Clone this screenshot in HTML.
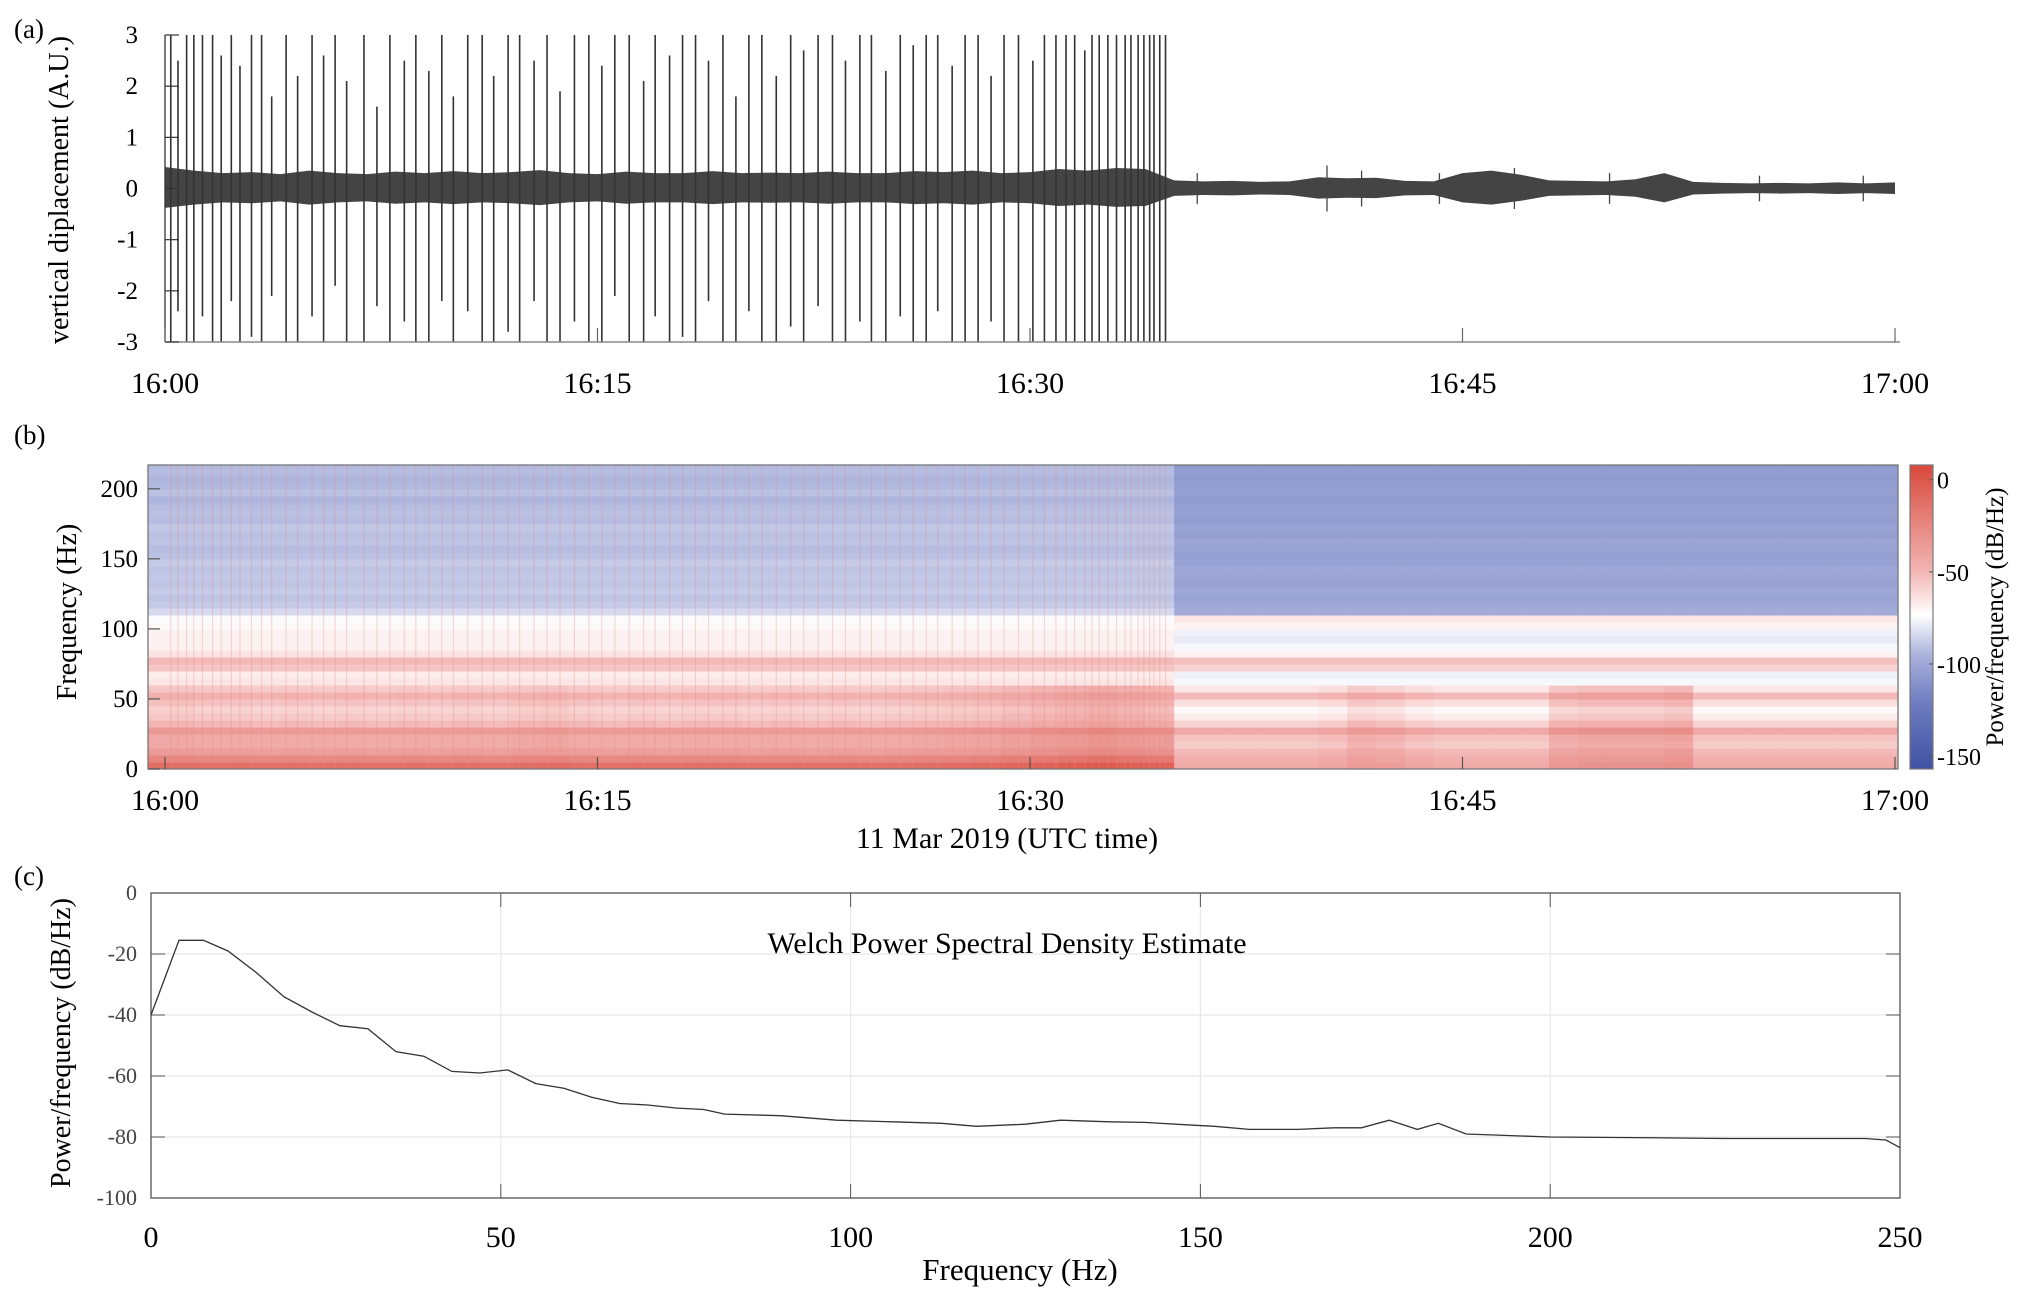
<!DOCTYPE html>
<html><head><meta charset="utf-8"><style>
html,body{margin:0;padding:0;background:#fff}
svg{display:block;font-family:"Liberation Serif",serif}
</style></head><body>
<svg id="fig" width="2024" height="1302" viewBox="0 0 2024 1302" xmlns="http://www.w3.org/2000/svg">
<defs>
<clipPath id="clipA"><rect x="165" y="35" width="1735" height="307"/></clipPath>
<clipPath id="clipB"><rect x="148" y="465" width="1750" height="304"/></clipPath>
<linearGradient id="cbar" x1="0" y1="1" x2="0" y2="0">
<stop offset="0" stop-color="#3f51a3"/><stop offset="0.219" stop-color="#6f7dc0"/><stop offset="0.375" stop-color="#aab2dc"/><stop offset="0.506" stop-color="#ffffff"/><stop offset="0.656" stop-color="#f2b3b1"/><stop offset="0.8125" stop-color="#e6847d"/><stop offset="1" stop-color="#d9483b"/>
</linearGradient>
</defs>
<g id="panelA"></g>
<g id="panelB"></g>
<g id="panelC"></g>
</svg>
<script>
// ---------- Panel (a) data ----------
const timeTicksMin = [0, 15, 30, 45, 60];
const timeTickLabels = ["16:00", "16:15", "16:30", "16:45", "17:00"];
const dispTicks = [3, 2, 1, 0, -1, -2, -3];
const spikeTimes = [0.2,0.45,0.75,1.0,1.3,1.65,1.95,2.3,2.6,3.0,3.35,3.7,4.2,4.6,5.1,5.5,5.9,6.3,6.9,7.35,7.8,8.3,8.7,9.15,9.6,10.0,10.5,11.0,11.4,11.9,12.3,12.8,13.25,13.7,14.2,14.7,15.15,15.6,16.1,16.6,17.0,17.5,17.95,18.4,18.85,19.35,19.8,20.25,20.7,21.2,21.7,22.15,22.65,23.15,23.6,24.1,24.5,25.0,25.5,25.95,26.4,26.8,27.3,27.75,28.2,28.65,29.1,29.6,30.1,30.5,30.9,31.25,31.55,31.9,32.15,32.4,32.7,33.0,33.3,33.5,33.75,33.95,34.15,34.3,34.5,34.7];
const spikeUp = [3,2.5,3,3,3,3,2.6,3,2.4,3,3,1.8,3,2.2,3,2.6,3,2.1,3,1.6,3,2.5,3,2.3,3,1.8,3,3,2.2,3,3,2.5,3,1.9,3,3,2.4,3,3,2.1,3,2.6,3,3,2.5,3,1.8,3,3,2.2,3,2.7,3,3,2.5,3,3,2.3,3,2.8,3,3,2.4,3,3,2.2,3,3,2.5,3,3,3,3,2.7,3,3,3,3,3,3,3,3,3,3,3,3];
const spikeDown = [-3,-2.4,-3,-3,-2.5,-3,-3,-2.2,-3,-2.9,-3,-2.1,-3,-3,-2.5,-3,-1.9,-3,-3,-2.3,-3,-2.6,-3,-3,-2.2,-3,-2.4,-3,-3,-2.8,-3,-2.2,-3,-3,-2.6,-3,-3,-2.1,-3,-3,-2.5,-3,-2.9,-3,-2.2,-3,-3,-2.4,-3,-3,-2.7,-3,-2.3,-3,-3,-2.6,-3,-3,-2.5,-3,-3,-2.4,-3,-3,-3,-2.6,-3,-3,-3,-3,-3,-3,-3,-3,-3,-3,-3,-3,-3,-3,-3,-3,-3,-3,-3,-3];
const envelope = [0.42,0.35,0.3,0.32,0.28,0.35,0.3,0.28,0.33,0.3,0.34,0.3,0.32,0.36,0.3,0.28,0.33,0.3,0.3,0.34,0.3,0.31,0.3,0.33,0.3,0.3,0.34,0.32,0.35,0.3,0.32,0.38,0.35,0.4,0.38,0.16,0.14,0.15,0.13,0.14,0.22,0.2,0.21,0.15,0.14,0.3,0.35,0.27,0.16,0.15,0.14,0.18,0.3,0.13,0.11,0.1,0.11,0.1,0.12,0.1,0.12];
const lateSpikeTimes = [35.8,40.3,41.5,44.2,46.8,50.1,55.3,58.9];
const lateSpikeAmp = [0.3,0.45,0.35,0.3,0.4,0.3,0.25,0.25];

// ---------- Panel (b) data ----------
const freqTicks = [0, 50, 100, 150, 200];
const cbarTicks = [0, -50, -100, -150];
const profileBefore = [-18,-30,-42,-48,-48,-40,-55,-60,-63,-58,-52,-60,-66,-68,-56,-52,-65,-70,-70,-70,-72,-75,-84,-88,-90,-88,-90,-89,-90,-88,-91,-92,-90,-91,-89,-92,-91,-92,-94,-91,-93,-94,-92,-93];
const profileAfter = [-45,-48,-52,-58,-55,-44,-60,-68,-72,-64,-52,-66,-76,-78,-60,-54,-70,-76,-80,-78,-70,-66,-98,-100,-102,-100,-103,-101,-100,-103,-104,-102,-101,-104,-102,-105,-103,-104,-106,-104,-105,-106,-105,-107];
const activity = [4,3,3,2,3,2,3,2,3,2,3,2,4,5,3,2,3,2,3,3,2,3,2,3,2,3,4,5,6,8,10,12,14,12,10,0,0,0,0,0,2,8,6,2,0,0,0,0,10,12,12,12,14,0,0,0,0,0,0,0];

// ---------- Panel (c) data ----------
const psdFreq = [0,4,7.5,11,15,19,23,27,31,35,39,43,47,51,55,59,63,67,71,75,79,82,90,98,106,113,118,125,130,137,142,148,152,157,164,169,173,177,181,184,188,200,212,225,235,245,248,250];
const psdDb = [-40,-15.5,-15.5,-19,-26,-34,-39,-43.5,-44.5,-52,-53.5,-58.5,-59,-58,-62.5,-64,-67,-69,-69.5,-70.5,-71,-72.5,-73,-74.5,-75,-75.5,-76.5,-75.8,-74.5,-75,-75.2,-76,-76.5,-77.5,-77.5,-77,-77,-74.5,-77.5,-75.5,-79,-80,-80.2,-80.5,-80.5,-80.5,-81,-83.5];
const psdXTicks = [0, 50, 100, 150, 200, 250];
const psdYTicks = [0, -20, -40, -60, -80, -100];

const NS = "http://www.w3.org/2000/svg";
function mk(parent, tag, attrs, text) {
  const e = document.createElementNS(NS, tag);
  for (const k in attrs) e.setAttribute(k, attrs[k]);
  if (text !== undefined) e.textContent = text;
  parent.appendChild(e);
  return e;
}

// ===== Panel A =====
(function () {
  const g = document.getElementById("panelA");
  const L = 165, R = 1900, T = 35, B = 342, X0 = 165, X1 = 1895;
  const xA = t => X0 + t / 60 * (X1 - X0);
  const yA = v => (T + B) / 2 - v * (B - T) / 6;
  let t = mk(g, "text", {x: 14, y: 38, "font-size": 27}, "(a)");
  
  
  let pts = [];
  for (let i = 0; i < envelope.length; i++) pts.push(xA(i) + "," + yA(envelope[i]));
  for (let i = envelope.length - 1; i >= 0; i--) pts.push(xA(i) + "," + yA(-envelope[i] * 0.9));
  let band = mk(g, "polygon", {points: pts.join(" "), fill: "#444", "clip-path": "url(#clipA)"});
  
  
  for (let i = 0; i < spikeTimes.length; i++) {
    let s = mk(g, "line", {x1: xA(spikeTimes[i]), x2: xA(spikeTimes[i]), y1: yA(spikeUp[i]), y2: yA(spikeDown[i]), stroke: "#333", "stroke-width": 1.6, "clip-path": "url(#clipA)"});
    
    
  }
  for (let i = 0; i < lateSpikeTimes.length; i++) {
    let s = mk(g, "line", {x1: xA(lateSpikeTimes[i]), x2: xA(lateSpikeTimes[i]), y1: yA(lateSpikeAmp[i]), y2: yA(-lateSpikeAmp[i]), stroke: "#444", "stroke-width": 1.3});
    
    
  }
  mk(g, "line", {x1: L, x2: L, y1: T, y2: B, stroke: "#333", "stroke-width": 1.3});
  mk(g, "line", {x1: L, x2: R, y1: B, y2: B, stroke: "#888", "stroke-width": 1.5});
  dispTicks.forEach(v => {
    mk(g, "line", {x1: L, x2: L + 14, y1: yA(v), y2: yA(v), stroke: "#333", "stroke-width": 1.2});
    let tl = mk(g, "text", {x: L - 27, y: yA(v) + 8, "font-size": 25, "text-anchor": "end"}, String(v));
    
    
  });
  timeTicksMin.forEach((m, i) => {
    mk(g, "line", {x1: xA(m), x2: xA(m), y1: B, y2: B - 14, stroke: "#666", "stroke-width": 1.2});
    let tl = mk(g, "text", {x: xA(m), y: 393, "font-size": 30, "text-anchor": "middle"}, timeTickLabels[i]);
    
    
  });
  let yl = mk(g, "text", {x: 0, y: 0, "font-size": 28, "text-anchor": "middle", transform: "translate(68,190) rotate(-90)"}, "vertical diplacement (A.U.)");
  
  
})();

// ===== Panel B =====
(function () {
  const g = document.getElementById("panelB");
  const L = 148, R = 1898, T = 465, B = 769, X0 = 165, X1 = 1895, FMAX = 217;
  const xB = t => X0 + t / 60 * (X1 - X0);
  const yB = f => B - f / FMAX * (B - T);
  const stops = [[-155,[63,81,163]],[-120,[111,125,192]],[-95,[170,178,220]],[-74,[255,255,255]],[-50,[242,179,177]],[-25,[230,132,125]],[5,[217,72,59]]];
  function cmap(v) {
    if (v <= stops[0][0]) v = stops[0][0];
    if (v >= 5) v = 5;
    for (let i = 0; i < stops.length - 1; i++) {
      const a = stops[i], b = stops[i + 1];
      if (v >= a[0] && v <= b[0]) {
        const f = (v - a[0]) / (b[0] - a[0]);
        return "rgb(" + a[1].map((c, k) => Math.round(c + f * (b[1][k] - c))).join(",") + ")";
      }
    }
    return "#fff";
  }
  let t = mk(g, "text", {x: 14, y: 444, "font-size": 27}, "(b)");
  
  
  const cells = mk(g, "g", {"clip-path": "url(#clipB)"});
  
  
  mk(cells, "rect", {x: L, y: T, width: R - L, height: B - T, fill: "#c8cde8"});
  for (let m = 0; m < 60; m++) {
    const prof = m < 35 ? profileBefore : profileAfter;
    for (let fi = 0; fi < prof.length; fi++) {
      let v = prof[fi];
      if (fi < 12) v += activity[m];
      const x0 = m === 0 ? L : xB(m), x1 = m === 59 ? R : xB(m + 1);
      let c = mk(cells, "rect", {x: x0, y: yB(fi * 5 + 5), width: x1 - x0 + 0.6, height: yB(0) - yB(5) + 0.6, fill: cmap(v)});
      
      
    }
  }
  for (let i = 0; i < spikeTimes.length; i++) {
    let s = mk(cells, "line", {x1: xB(spikeTimes[i]), x2: xB(spikeTimes[i]), y1: T, y2: B, stroke: "#e58a84", "stroke-width": 1.2, opacity: 0.3});
    
    
  }
  mk(g, "rect", {x: L, y: T, width: R - L, height: B - T, fill: "none", stroke: "#777", "stroke-width": 1.3});
  freqTicks.forEach(f => {
    mk(g, "line", {x1: L, x2: L + 12, y1: yB(f), y2: yB(f), stroke: "#555", "stroke-width": 1.2});
    let tl = mk(g, "text", {x: L - 10, y: yB(f) + 8, "font-size": 25, "text-anchor": "end"}, String(f));
    
    
  });
  timeTicksMin.forEach((m, i) => {
    mk(g, "line", {x1: xB(m), x2: xB(m), y1: B, y2: B - 12, stroke: "#555", "stroke-width": 1.2});
    let tl = mk(g, "text", {x: xB(m), y: 810, "font-size": 30, "text-anchor": "middle"}, timeTickLabels[i]);
    
    
  });
  let xl = mk(g, "text", {x: 1007, y: 848, "font-size": 30, "text-anchor": "middle"}, "11 Mar 2019 (UTC time)");
  
  
  let yl = mk(g, "text", {x: 0, y: 0, "font-size": 28, "text-anchor": "middle", transform: "translate(76,612) rotate(-90)"}, "Frequency (Hz)");
  
  
  const CL = 1910, CR = 1933, CT = 465, CB = 769, VMIN = -157, VMAX = 8;
  const yC = v => CB - (v - VMIN) / (VMAX - VMIN) * (CB - CT);
  let cb = mk(g, "rect", {x: CL, y: CT, width: CR - CL, height: CB - CT, fill: "url(#cbar)", stroke: "#777", "stroke-width": 1.2});
  
  
  cbarTicks.forEach(v => {
    mk(g, "line", {x1: CR - 4, x2: CR, y1: yC(v), y2: yC(v), stroke: "#555"});
    let tl = mk(g, "text", {x: CR + 4, y: yC(v) + 9, "font-size": 24}, String(v));
    
    
  });
  let cl = mk(g, "text", {x: 0, y: 0, "font-size": 25, "text-anchor": "middle", transform: "translate(2003,617) rotate(-90)"}, "Power/frequency (dB/Hz)");
  
  
})();

// ===== Panel C =====
(function () {
  const g = document.getElementById("panelC");
  const L = 151, R = 1900, T = 893, B = 1198;
  const xC = f => L + f / 250 * (R - L);
  const yC = v => T - v / 100 * (B - T);
  let t = mk(g, "text", {x: 14, y: 885, "font-size": 27}, "(c)");
  
  
  psdXTicks.forEach(f => mk(g, "line", {x1: xC(f), x2: xC(f), y1: T, y2: B, stroke: "#e8e8e8", "stroke-width": 1.2}));
  psdYTicks.forEach(v => mk(g, "line", {x1: L, x2: R, y1: yC(v), y2: yC(v), stroke: "#e8e8e8", "stroke-width": 1.2}));
  mk(g, "rect", {x: L, y: T, width: R - L, height: B - T, fill: "none", stroke: "#555", "stroke-width": 1.3});
  psdYTicks.forEach(v => {
    mk(g, "line", {x1: L, x2: L + 14, y1: yC(v), y2: yC(v), stroke: "#555"});
    mk(g, "line", {x1: R - 14, x2: R, y1: yC(v), y2: yC(v), stroke: "#555"});
    let tl = mk(g, "text", {x: L - 14, y: yC(v) + 7, "font-size": 22, "text-anchor": "end", fill: "#444"}, String(v));
    
    
  });
  psdXTicks.forEach(f => {
    mk(g, "line", {x1: xC(f), x2: xC(f), y1: B, y2: B - 14, stroke: "#555"});
    mk(g, "line", {x1: xC(f), x2: xC(f), y1: T, y2: T + 14, stroke: "#555"});
    let tl = mk(g, "text", {x: xC(f), y: 1247, "font-size": 30, "text-anchor": "middle"}, String(f));
    
    
  });
  const d = psdFreq.map((f, i) => (i ? "L" : "M") + xC(f).toFixed(1) + "," + yC(psdDb[i]).toFixed(1)).join(" ");
  let line = mk(g, "path", {d: d, fill: "none", stroke: "#333", "stroke-width": 1.3});
  
  
  let ti = mk(g, "text", {x: 1007, y: 953, "font-size": 30, "text-anchor": "middle"}, "Welch Power Spectral Density Estimate");
  
  
  let xl = mk(g, "text", {x: 1020, y: 1280, "font-size": 31, "text-anchor": "middle"}, "Frequency (Hz)");
  
  
  let yl = mk(g, "text", {x: 0, y: 0, "font-size": 28, "text-anchor": "middle", transform: "translate(70,1043) rotate(-90)"}, "Power/frequency (dB/Hz)");
  
  
})();
</script>
</body></html>
